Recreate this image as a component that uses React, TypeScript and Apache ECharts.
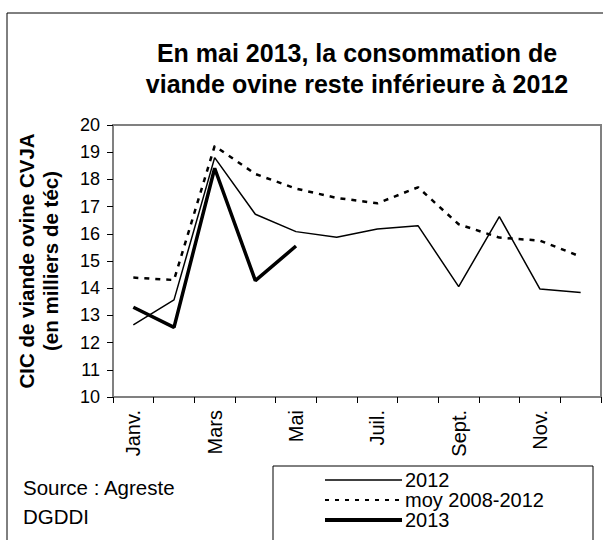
import React, { useEffect, useRef } from "react";
import * as echarts from "echarts";

const months = ["Janv.", "Févr.", "Mars", "Avr.", "Mai", "Juin", "Juil.", "Août", "Sept.", "Oct.", "Nov.", "Déc."];
const serie2012 = [12.65, 13.57, 18.8, 16.72, 16.08, 15.87, 16.18, 16.3, 14.06, 16.63, 13.97, 13.84];
const serieMoy = [14.39, 14.3, 19.23, 18.2, 17.66, 17.32, 17.12, 17.71, 16.35, 15.86, 15.75, 15.16];
const serie2013 = [13.3, 12.56, 18.41, 14.28, 15.55];
const seriesNames = ["2012", "moy 2008-2012", "2013"];
const titleLines = ["En mai 2013, la consommation de", "viande ovine reste inférieure à 2012"];
const yTitleLines = ["CIC de viande ovine CVJA", "(en milliers de téc)"];
const sourceLines = ["Source : Agreste", "DGDDI"];

const FONT = "'Liberation Sans', Arial, sans-serif";

const lineStyles = [
  { width: 1.5, dash: null as number[] | null },
  { width: 2.5, dash: [5, 6] },
  { width: 3.5, dash: null as number[] | null },
];
const legendStyles = [
  { width: 1.5, dash: null as number[] | null },
  { width: 2, dash: [4, 6] },
  { width: 4, dash: null as number[] | null },
];

export default function App() {
  const ref = useRef<HTMLDivElement>(null);
  useEffect(() => {
    document.body.style.margin = "0";
    const chart = echarts.init(ref.current!, null, { renderer: "svg" });

    const legendTop = 466;
    const legendGraphics: any[] = [
      {
        type: "rect",
        shape: { x: 273, y: legendTop, width: 320, height: 100 },
        style: { fill: "#fff", stroke: "#000", lineWidth: 1 },
        z: 10,
      },
    ];
    seriesNames.forEach((name, i) => {
      const cy = 480 + i * 20;
      const ls = legendStyles[i];
      legendGraphics.push({
        type: "line",
        shape: { x1: 325, y1: cy, x2: 402, y2: cy },
        style: { stroke: "#000", lineWidth: ls.width, lineDash: ls.dash || undefined },
        z: 11,
      });
      legendGraphics.push({
        type: "text",
        x: 405,
        y: cy,
        style: { text: name, font: `20px ${FONT}`, fill: "#000", verticalAlign: "middle" },
        z: 11,
      });
    });

    chart.setOption({
      animation: false,
      backgroundColor: "#fff",
      textStyle: { fontFamily: FONT, color: "#000" },
      title: {
        text: titleLines.join("\n"),
        left: 357,
        top: 37,
        textAlign: "center",
        padding: 0,
        textStyle: { fontFamily: FONT, fontSize: 25, fontWeight: "bold", color: "#000", lineHeight: 31 },
      },
      grid: {
        left: 113,
        top: 125,
        right: 2,
        bottom: 143,
        outerBoundsMode: "none",
        containLabel: false,
        show: true,
        borderColor: "#808080",
        borderWidth: 2,
        backgroundColor: "transparent",
      },
      xAxis: {
        type: "category",
        data: months,
        boundaryGap: true,
        axisLine: { lineStyle: { color: "#808080", width: 2 } },
        axisTick: { show: true, interval: 0, length: 6, lineStyle: { color: "#000", width: 1 } },
        axisLabel: { interval: 1, rotate: 90, fontSize: 20, color: "#000", margin: 13, fontFamily: FONT },
        splitLine: { show: false },
      },
      yAxis: {
        type: "value",
        min: 10,
        max: 20,
        interval: 1,
        name: yTitleLines.join("\n"),
        nameLocation: "middle",
        nameRotate: 90,
        nameGap: 51,
        nameTextStyle: { fontFamily: FONT, fontSize: 20.5, fontWeight: "bold", color: "#000", lineHeight: 24 },
        axisLine: { show: true, lineStyle: { color: "#808080", width: 2 } },
        axisTick: { show: true, length: 6, lineStyle: { color: "#000", width: 1 } },
        axisLabel: { fontSize: 18, color: "#000", margin: 13, fontFamily: FONT },
        splitLine: { show: false },
      },
      graphic: [
        {
          type: "rect",
          shape: { x: 7, y: 13, width: 700, height: 600 },
          style: { fill: "none", stroke: "#000", lineWidth: 1 },
          silent: true,
          z: -1,
        },
        {
          type: "text",
          x: 23,
          y: 487,
          style: { text: sourceLines[0], font: `20.5px ${FONT}`, fill: "#000", verticalAlign: "middle" },
        },
        {
          type: "text",
          x: 23,
          y: 516,
          style: { text: sourceLines[1], font: `20.5px ${FONT}`, fill: "#000", verticalAlign: "middle" },
        },
        ...legendGraphics,
      ],
      series: [serie2012, serieMoy, serie2013].map((data, i) => ({
        name: seriesNames[i],
        type: "line",
        data,
        symbol: "none",
        lineStyle: {
          color: "#000",
          width: lineStyles[i].width,
          type: lineStyles[i].dash ? lineStyles[i].dash : "solid",
        },
        itemStyle: { color: "#000" },
      })),
    });
    return () => chart.dispose();
  }, []);
  return <div ref={ref} style={{ width: 603, height: 540 }} />;
}
